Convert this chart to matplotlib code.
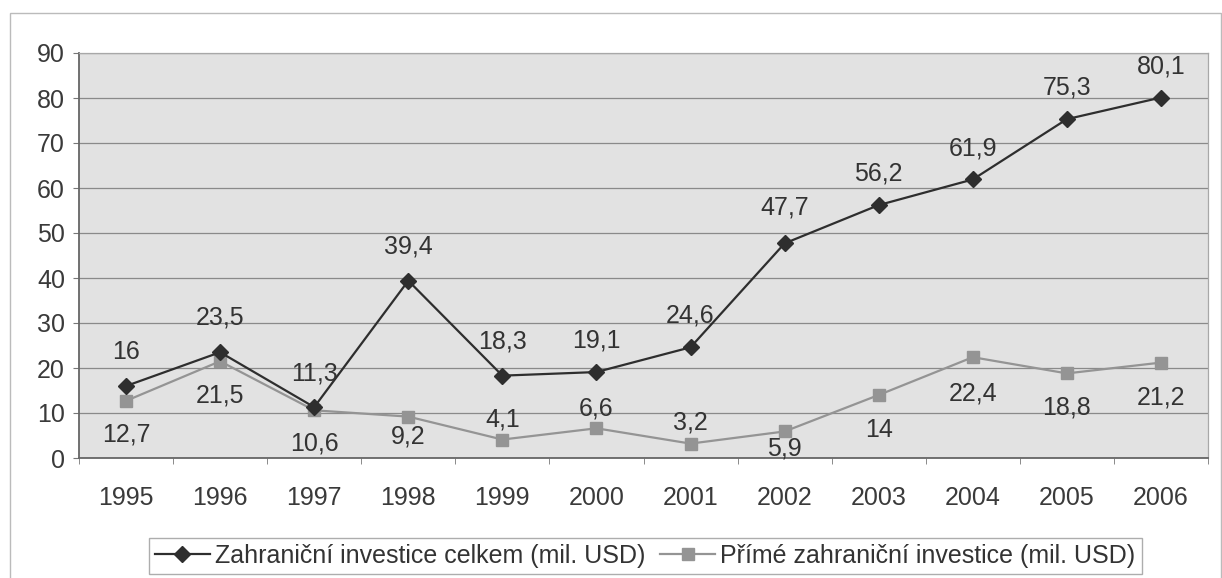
import matplotlib.pyplot as plt
from matplotlib.patches import Rectangle

plt.rcParams['font.family'] = ['Liberation Sans', 'DejaVu Sans']

years = ['1995', '1996', '1997', '1998', '1999', '2000',
         '2001', '2002', '2003', '2004', '2005', '2006']
celkem = [16, 23.5, 11.3, 39.4, 18.3, 19.1, 24.6, 47.7, 56.2, 61.9, 75.3, 80.1]
prime = [12.7, 21.5, 10.6, 9.2, 4.1, 6.6, 3.2, 5.9, 14, 22.4, 18.8, 21.2]
label_celkem = 'Zahraniční investice celkem (mil. USD)'
label_prime = 'Přímé zahraniční investice (mil. USD)'

# label offsets in pixels (positive = up)
off_celkem = [34, 35, 34, 34, 34, 32, 32, 36, 32, 31, 32, 31]
off_prime = [-34, -34, -33, -20, 20, 20, 21, -17, -35, -36, -34, -35]

FS = 18
W, H = 1222, 578
fig = plt.figure(figsize=(W / 100, H / 100), dpi=100)
ax = fig.add_axes([79 / W, 1 - 458 / H, (1208 - 79) / W, (458 - 53) / H])
ax.set_facecolor('#e2e2e2')

x = list(range(len(years)))
ax.plot(x, celkem, color='#2e2e2e', lw=1.6, marker='D', ms=8,
        label=label_celkem, zorder=4)
ax.plot(x, prime, color='#949494', lw=1.6, marker='s', ms=9,
        label=label_prime, zorder=3)

def fmt(v):
    return ('%g' % v).replace('.', ',')

for xi, v, o in zip(x, celkem, off_celkem):
    ax.annotate(fmt(v), (xi, v), xytext=(0, o * 0.72), textcoords='offset points',
                ha='center', va='center', fontsize=FS, color='#333333', zorder=5)
for xi, v, o in zip(x, prime, off_prime):
    ax.annotate(fmt(v), (xi, v), xytext=(0, o * 0.72), textcoords='offset points',
                ha='center', va='center', fontsize=FS, color='#333333', zorder=5,
                annotation_clip=False)

ax.set_xlim(-0.5, len(years) - 0.5)
ax.set_ylim(0, 90)
ax.set_yticks(range(0, 91, 10))
ax.set_xticks(x)
ax.set_xticklabels(years)
ax.set_xticks([i - 0.5 for i in range(len(years) + 1)], minor=True)
ax.tick_params(axis='x', which='major', length=0, pad=20, labelsize=FS,
               labelcolor='#3a3a3a')
ax.tick_params(axis='x', which='minor', length=4, color='#777777', direction='out')
ax.tick_params(axis='y', length=4, color='#777777', pad=6, labelsize=FS,
               labelcolor='#3a3a3a')
ax.yaxis.grid(True, color='#8a8a8a', lw=0.9)
ax.set_axisbelow(True)
for s in ['left', 'bottom']:
    ax.spines[s].set_color('#666666')
    ax.spines[s].set_linewidth(1.3)
for s in ['top', 'right']:
    ax.spines[s].set_color('#a8a8a8')
    ax.spines[s].set_linewidth(0.9)

leg = fig.legend(loc='center', bbox_to_anchor=(645 / W, 1 - 556 / H), ncol=2,
                 frameon=True, fancybox=False, fontsize=FS, handlelength=2.2,
                 handletextpad=0.2, columnspacing=0.6, borderpad=0.25)
leg.get_frame().set_edgecolor('#999999')
leg.get_frame().set_linewidth(1.0)
for t in leg.get_texts():
    t.set_color('#333333')

fig.patches.append(Rectangle((10 / W, -0.01), (1221 - 10) / W, 1.01 - 13 / H,
                             transform=fig.transFigure, fill=False,
                             edgecolor='#bbbbbb', lw=1.0))

fig.savefig('out.png', dpi=100)
